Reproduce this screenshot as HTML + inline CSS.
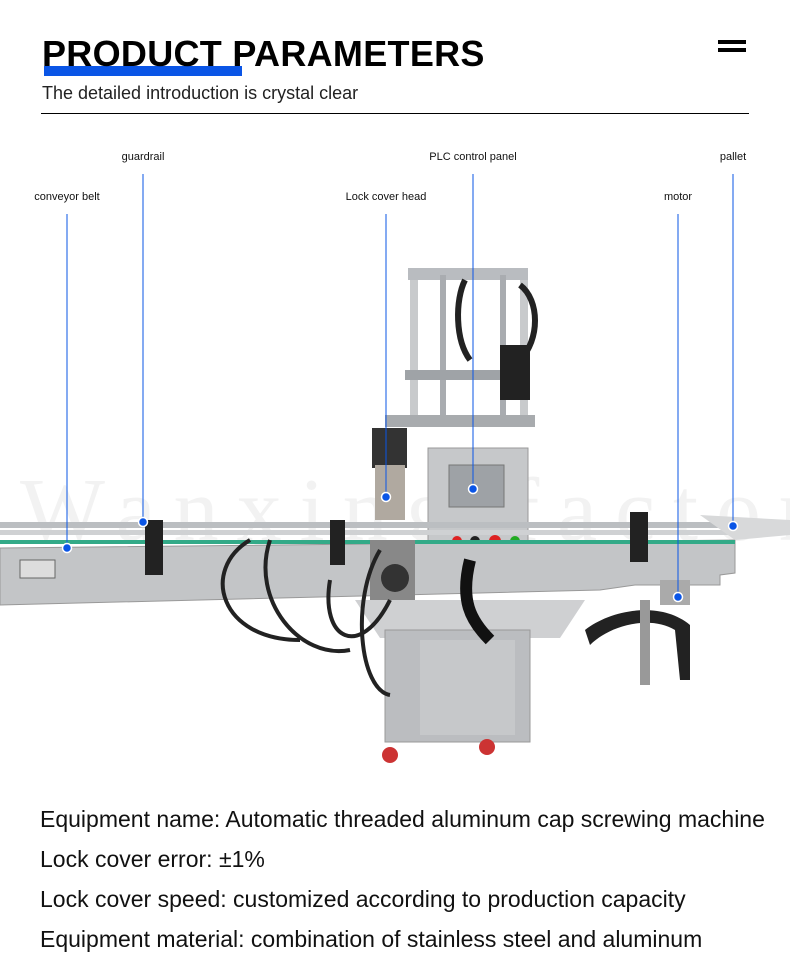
<!DOCTYPE html>
<html><head><meta charset="utf-8"><style>
body{margin:0;width:790px;height:977px;background:#fff;position:relative;overflow:hidden;font-family:"Liberation Sans",sans-serif}
.a{position:absolute}
.t{left:42px;top:33px;font-size:36px;font-weight:bold;letter-spacing:0.3px;color:#000;z-index:2}
.lbl{position:absolute;font-size:11px;color:#111;transform:translateX(-50%);white-space:nowrap}
.b{position:absolute;left:40px;font-size:23px;color:#111;white-space:nowrap}
</style></head><body>
<div class="a" style="left:44px;top:66px;width:198px;height:10px;background:#0a55e6;z-index:1"></div>
<div class="a t">PRODUCT PARAMETERS</div>
<div class="a" style="left:718px;top:40px;width:28px;height:4px;background:#000"></div>
<div class="a" style="left:718px;top:48px;width:28px;height:4px;background:#000"></div>
<div class="a" style="left:42px;top:83px;font-size:18px;color:#222">The detailed introduction is crystal clear</div>
<div class="a" style="left:41px;top:113px;width:708px;height:1px;background:#000"></div>

<svg class="a" style="left:0;top:0" width="790" height="977">
<text x="20" y="540" font-family="Liberation Serif" font-size="90" fill="#f2f2f2" letter-spacing="18">Wanxing factory</text>
<rect x="408" y="268" width="120" height="12" fill="#b9bcc0"/>
<rect x="410" y="280" width="8" height="140" fill="#c8cacc"/>
<rect x="520" y="280" width="8" height="140" fill="#c8cacc"/>
<rect x="440" y="275" width="6" height="140" fill="#a9acb0"/>
<rect x="500" y="275" width="6" height="140" fill="#a9acb0"/>
<rect x="405" y="370" width="125" height="10" fill="#9fa3a7"/>
<rect x="385" y="415" width="150" height="12" fill="#a8abae"/>
<rect x="500" y="345" width="30" height="55" fill="#222"/>
<path d="M465 280 C455 300 455 340 470 360" stroke="#222" stroke-width="6" fill="none"/>
<path d="M520 285 C540 300 540 340 520 360" stroke="#222" stroke-width="6" fill="none"/>
<rect x="372" y="428" width="35" height="40" fill="#333"/>
<rect x="375" y="465" width="30" height="55" fill="#b0a9a0"/>
<rect x="428" y="448" width="100" height="110" fill="#c6c8ca" stroke="#999"/>
<rect x="449" y="465" width="55" height="42" fill="#9ea2a6" stroke="#777"/>
<circle cx="457" cy="541" r="5" fill="#d22"/><circle cx="475" cy="541" r="5" fill="#222"/>
<circle cx="495" cy="541" r="6" fill="#d22"/><circle cx="515" cy="541" r="5" fill="#2a2"/>
<rect x="0" y="522" width="735" height="6" fill="#bbbec1"/>
<rect x="0" y="530" width="735" height="5" fill="#cfd1d3"/>
<polygon points="0,548 735,540 735,573 720,575 720,585 635,585 600,590 0,605" fill="#c3c5c7" stroke="#999"/>
<rect x="0" y="540" width="735" height="4" fill="#3a8"/>
<polygon points="700,515 790,520 790,535 735,540" fill="#d8d9da"/>
<rect x="20" y="560" width="35" height="18" fill="#ddd" stroke="#666"/>
<rect x="145" y="520" width="18" height="55" fill="#222"/>
<rect x="330" y="520" width="15" height="45" fill="#222"/>
<rect x="630" y="512" width="18" height="50" fill="#222"/>
<polygon points="355,600 585,600 560,638 380,638" fill="#cfd0d2"/>
<rect x="385" y="630" width="145" height="112" fill="#bbbdc0" stroke="#999"/>
<rect x="420" y="640" width="95" height="95" fill="#c6c8ca"/>
<circle cx="390" cy="755" r="8" fill="#c33"/><circle cx="487" cy="747" r="8" fill="#c33"/>
<rect x="370" y="540" width="45" height="60" fill="#888"/>
<circle cx="395" cy="578" r="14" fill="#333"/>
<path d="M250 540 C200 570 220 640 300 640 M270 540 C250 600 300 660 350 650 M330 580 C320 640 360 660 390 600 M380 550 C350 600 360 690 390 695" stroke="#222" stroke-width="4" fill="none"/>
<path d="M470 560 C460 600 470 620 490 640" stroke="#111" stroke-width="12" fill="none"/>
<rect x="660" y="580" width="30" height="25" fill="#aaa"/>
<path d="M585 630 C610 610 660 600 690 625 L690 680 L680 680 L675 630 C650 615 610 625 590 645Z" fill="#222"/>
<rect x="640" y="600" width="10" height="85" fill="#999"/>
<g stroke="#0a55e6" stroke-width="1">
<line x1="143" y1="174" x2="143" y2="522"/><line x1="67" y1="214" x2="67" y2="548"/>
<line x1="386" y1="214" x2="386" y2="497"/><line x1="473" y1="174" x2="473" y2="489"/>
<line x1="678" y1="214" x2="678" y2="597"/><line x1="733" y1="174" x2="733" y2="526"/>
</g>
<g fill="#0a55e6" stroke="#fff" stroke-width="1.5">
<circle cx="143" cy="522" r="4.5"/><circle cx="67" cy="548" r="4.5"/><circle cx="386" cy="497" r="4.5"/>
<circle cx="473" cy="489" r="4.5"/><circle cx="678" cy="597" r="4.5"/><circle cx="733" cy="526" r="4.5"/>
</g>
</svg>

<div class="lbl" style="left:143px;top:151px">guardrail</div>
<div class="lbl" style="left:473px;top:151px">PLC control panel</div>
<div class="lbl" style="left:733px;top:151px">pallet</div>
<div class="lbl" style="left:67px;top:191px">conveyor belt</div>
<div class="lbl" style="left:386px;top:191px">Lock cover head</div>
<div class="lbl" style="left:678px;top:191px">motor</div>

<div class="b" style="top:806px">Equipment name: Automatic threaded aluminum cap screwing machine</div>
<div class="b" style="top:846px">Lock cover error: ±1%</div>
<div class="b" style="top:886px">Lock cover speed: customized according to production capacity</div>
<div class="b" style="top:926px">Equipment material: combination of stainless steel and aluminum</div>
</body></html>
